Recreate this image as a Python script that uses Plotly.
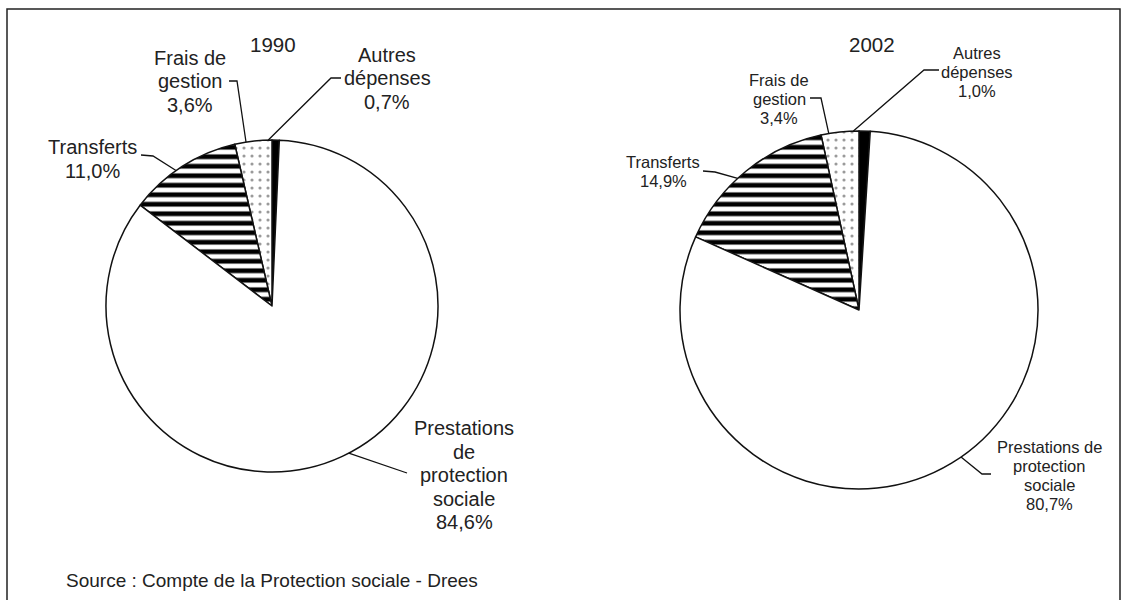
import math
import plotly.graph_objects as go

# ---------------- data ----------------
categories = ["Autres dépenses", "Frais de gestion", "Transferts",
              "Prestations de protection sociale"]
years = ["1990", "2002"]
values_1990 = [0.7, 3.6, 11.0, 84.6]
values_2002 = [1.0, 3.4, 14.9, 80.7]
names_1990 = [["Autres", "dépenses"], ["Frais de", "gestion"], ["Transferts"],
              ["Prestations", "de", "protection", "sociale"]]
names_2002 = [["Autres", "dépenses"], ["Frais de", "gestion"], ["Transferts"],
              ["Prestations de", "protection", "sociale"]]
source_text = "Source : Compte de la Protection sociale - Drees"

# ---------------- layout (pixels) ----------------
W, H = 1128, 600
FONT = "Liberation Sans, Arial, sans-serif"
TXT = "#222222"

pies = [
    dict(year=years[0], values=values_1990, names=names_1990,
         cx=272, cy=306, r=166, title_xy=(273, 44), fsize=20, lh=23.5,
         labels=[(387, 78), (190, 81), (92, 159), (464, 475)],
         leaders=[[(341, 78), (331, 78)],
                  [(229, 81), (237, 81)],
                  [(141, 155), (153, 156)],
                  [(407, 473)]]),
    dict(year=years[1], values=values_2002, names=names_2002,
         cx=859, cy=310, r=179, title_xy=(872, 44), fsize=16.5, lh=19,
         labels=[(977, 71.5), (779, 99), (663, 171.5), (1049, 475)],
         leaders=[[(939, 70), (924, 70)],
                  [(810, 98), (821, 98)],
                  [(703, 171), (715, 172)],
                  [(991, 474), (982, 474)]]),
]

fills = ["#000000", "#ffffff", "#ffffff", "#ffffff"]
pattern = dict(shape=["", ".", "-", ""],
               fgcolor=["#000000", "#9a9a9a", "#000000", "#000000"],
               bgcolor=["#000000", "#ffffff", "#ffffff", "#ffffff"],
               size=[8, 8, 9.5, 8],
               solidity=[0.3, 0.12, 0.5, 0.3])


def fmt(v):
    return f"{v:.1f}".replace(".", ",") + "%"


def mid_point(values, i, cx, cy, r):
    total = sum(values)
    frac = (sum(values[:i]) + values[i] / 2) / total
    th = 2 * math.pi * frac
    return cx - r * math.sin(th), cy - r * math.cos(th)


fig = go.Figure()
# invisible pixel axes for annotations / leader lines
fig.add_trace(go.Scatter(x=[0, W], y=[0, H], mode="markers",
                         marker=dict(opacity=0), hoverinfo="skip",
                         showlegend=False))

shapes = []
annotations = []
for p in pies:
    cx, cy, r = p["cx"], p["cy"], p["r"]
    fig.add_trace(go.Pie(
        labels=categories, values=p["values"], sort=False,
        direction="counterclockwise", rotation=0,
        textinfo="none", hoverinfo="label+percent",
        marker=dict(colors=fills, pattern=pattern,
                    line=dict(color="#111111", width=1.5)),
        domain=dict(x=[(cx - r) / W, (cx + r) / W],
                    y=[1 - (cy + r) / H, 1 - (cy - r) / H]),
        showlegend=False))
    annotations.append(dict(x=p["title_xy"][0], y=p["title_xy"][1],
                            xref="x", yref="y", text=p["year"],
                            showarrow=False,
                            font=dict(family=FONT, size=20.5, color=TXT)))
    for i, v in enumerate(p["values"]):
        lx, ly = p["labels"][i]
        lines = p["names"][i] + [fmt(v)]
        n = len(lines)
        for k, t in enumerate(lines):
            annotations.append(dict(
                x=lx, y=ly + (k - (n - 1) / 2) * p["lh"],
                xref="x", yref="y", text=t, showarrow=False,
                xanchor="center", yanchor="middle",
                font=dict(family=FONT, size=p["fsize"], color=TXT)))
        pts = list(p["leaders"][i]) + [mid_point(p["values"], i, cx, cy, r)]
        path = "M " + " L ".join(f"{x:.1f},{y:.1f}" for x, y in pts)
        shapes.append(dict(type="path", path=path, xref="x", yref="y",
                           line=dict(color="#111111", width=1.3)))

annotations.append(dict(x=64, y=580, xref="x", yref="y", text=source_text,
                        showarrow=False, xanchor="left",
                        font=dict(family=FONT, size=19, color=TXT)))

# frame
shapes.append(dict(type="rect", x0=7, y0=9, x1=1120, y1=615,
                   xref="x", yref="y",
                   line=dict(color="#222222", width=1.5)))

fig.update_layout(
    width=W, height=H,
    margin=dict(l=0, r=0, t=0, b=0),
    paper_bgcolor="white", plot_bgcolor="white",
    xaxis=dict(range=[0, W], visible=False, fixedrange=True),
    yaxis=dict(range=[H, 0], visible=False, fixedrange=True),
    shapes=shapes, annotations=annotations,
    showlegend=False,
)

fig.write_html("out.html")
